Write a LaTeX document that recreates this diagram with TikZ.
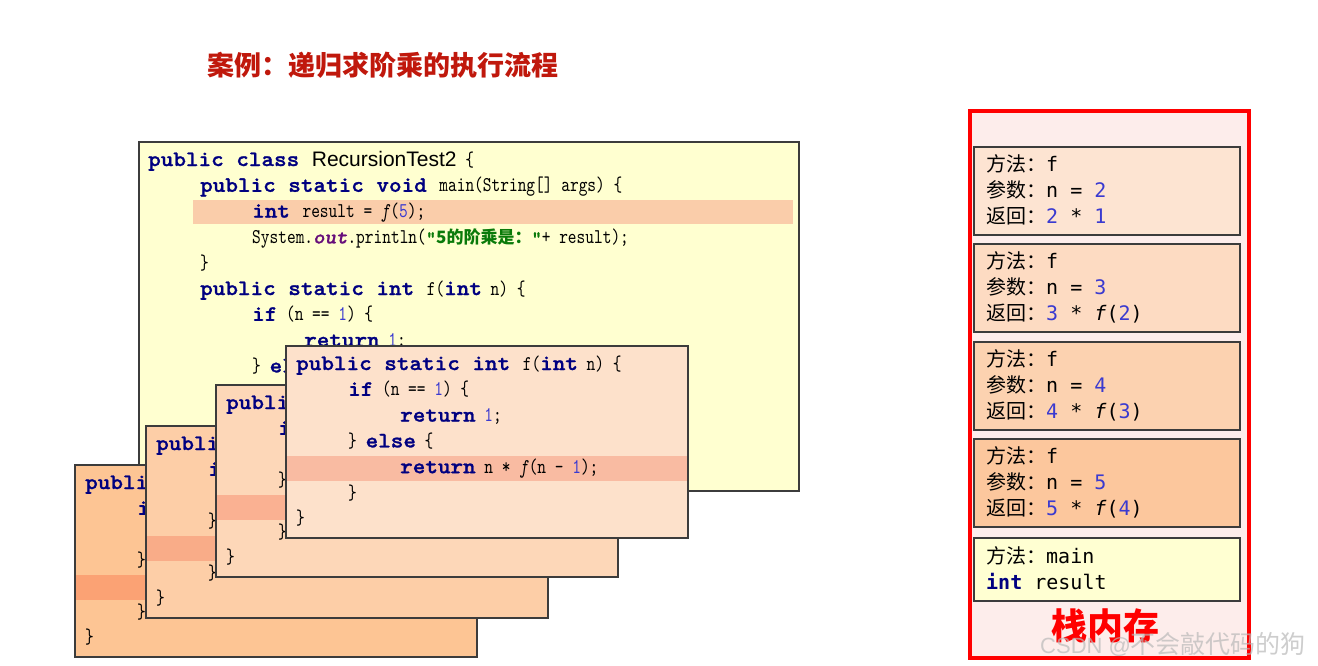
\documentclass[tikz,border=0pt]{standalone}
\usepackage{fontspec}
\usepackage{xcolor}
\newfontfamily\kwfont{lmmonolt10-bold.otf}[FakeStretch=1.09, FakeBold=1.2, BoldFont=lmmonolt10-bold.otf, ItalicFont=lmmonolt10-boldoblique.otf, BoldItalicFont=lmmonolt10-boldoblique.otf]
\newfontfamily\codefont{lmmono10-regular.otf}[FakeStretch=0.79, ItalicFont=lmmono10-italic.otf]
\newfontfamily\cjk{Noto Sans CJK SC}
\newfontfamily\dvm{DejaVu Sans Mono}
\newfontfamily\arialf{Liberation Sans}
\definecolor{kwc}{HTML}{000080}
\definecolor{numc}{HTML}{3A3AD0}
\definecolor{strc}{HTML}{0A7A0A}
\definecolor{purp}{HTML}{660E7A}
\definecolor{mainfill}{HTML}{FFFFD0}
\definecolor{mainhl}{HTML}{FACDAA}
\definecolor{fa}{HTML}{FDC594}\definecolor{fahl}{HTML}{FBA274}
\definecolor{fb}{HTML}{FDCEA7}\definecolor{fbhl}{HTML}{F9AC88}
\definecolor{fc}{HTML}{FDD7B8}\definecolor{fchl}{HTML}{FAB192}
\definecolor{fd}{HTML}{FDE1CB}\definecolor{fdhl}{HTML}{F9BBA2}
\definecolor{bordc}{HTML}{3C3C3C}
\definecolor{stkbg}{HTML}{FDEDEB}
\definecolor{sa}{HTML}{FDE4D2}
\definecolor{sb}{HTML}{FDDBC2}
\definecolor{sc}{HTML}{FCD2B0}
\definecolor{sd}{HTML}{FCC79D}
\definecolor{se}{HTML}{FFFFD2}
\definecolor{titlec}{HTML}{C0180C}
\newcommand\cf{\codefont\fontsize{21}{24}\selectfont}
\newcommand\kw[1]{{\kwfont\fontsize{22}{26}\selectfont\color{kwc}#1}}
\newcommand\nm[1]{{\color{numc}#1}}
\newcommand\stf{\dvm\fontsize{20}{24}\selectfont}
\newcommand\skw[1]{{\bfseries\color{kwc}#1}}
\newcommand\codeframe[5]{%
\begin{scope}[shift={(#2,#3)}]
 \node[framebox, fill=#4] (#1) at (0,0) {};
 \fill[#5] (0.75,110) rectangle (401.25,135);
 \node[code] (#1a) at (10,24) {\kw{public static int }f(\kw{int} n) \{};
 \node[code] (#1b) at (62,49.8) {\kw{if} (n == \nm{1}) \{};
 \node[code] (#1c) at (114,75.6) {\kw{return} \nm{1};};
 \node[code] (#1d) at (62,101.4) {\} \kw{else} \{};
 \node[code] (#1e) at (114,127.2) {\kw{return} n * \textit{f}(n - \nm{1});};
 \node[code] (#1f) at (62,153) {\}};
 \node[code] (#1g) at (10,178.8) {\}};
\end{scope}}
\tikzset{
 framebox/.style={draw=bordc, line width=1.5pt, anchor=north west, inner sep=0pt, outer sep=0pt, minimum width=402pt, minimum height=192pt},
 code/.style={anchor=base west, inner sep=0pt, font=\cf},
 stk/.style={anchor=base west, inner sep=0pt, font=\stf},
 stkbox/.style={draw=bordc, line width=1.5pt, anchor=north west, inner sep=0pt, outer sep=0pt, minimum width=266pt},
}
\begin{document}
\begin{tikzpicture}[x=1pt,y=-1pt]
\useasboundingbox (0,0) rectangle (1318,665);
\fill[white] (0,0) rectangle (1318,665);
% title
\node[inner sep=0pt, text=titlec, font=\cjk\bfseries\fontsize{27}{30}\selectfont] (title) at (383,65) {案例：递归求阶乘的执行流程};
% main class box
\node[draw=bordc, line width=1.5pt, fill=mainfill, anchor=north west, inner sep=0pt, minimum width=660pt, minimum height=349pt] (mainbox) at (138,141) {};
\fill[mainhl] (193,200) rectangle (793,224);
\node[code] (m1) at (148,166) {\kw{public class }{\arialf\fontsize{21}{24}\selectfont RecursionTest2} \{};
\node[code] (m2) at (200,191.8) {\kw{public static void }main(String[] args) \{};
\node[code] (m3) at (252,217.6) {\kw{int }result = \textit{f}(\nm{5});};
\node[code] (m4) at (252,243.4) {System.{\kwfont\itshape\fontsize{20}{22}\selectfont\color{purp}out}.println({\color{strc}{\kwfont\fontsize{18}{20}\selectfont"}{\cjk\bfseries\fontsize{17}{20}\selectfont 5的阶乘是：}{\kwfont\fontsize{18}{20}\selectfont"}}+ result);};
\node[code] (m5) at (200,269.2) {\}};
\node[code] (m6) at (200,295) {\kw{public static int }f(\kw{int} n) \{};
\node[code] (m7) at (252,320.8) {\kw{if} (n == \nm{1}) \{};
\node[code] (m8) at (304,346.6) {\kw{return} \nm{1};};
\node[code] (m9) at (252,372.4) {\} \kw{else} \{};
\node[code] (m10) at (304,398.2) {\kw{return} n * \textit{f}(n - \nm{1});};
\node[code] (m11) at (252,424) {\}};
\node[code] (m12) at (200,449.8) {\}};
\node[code] (m13) at (148,475.6) {\}};
% recursion frames, back to front
\codeframe{fra}{75}{465}{fa}{fahl}
\codeframe{frb}{146}{426}{fb}{fbhl}
\codeframe{frc}{216}{385}{fc}{fchl}
\codeframe{frd}{286}{346}{fd}{fdhl}
% stack memory
\node[draw=red, line width=3.5pt, fill=stkbg, anchor=north west, inner sep=0pt, minimum width=279pt, minimum height=547pt] (stack) at (968,109) {};
\node[stkbox, fill=sa, minimum height=88pt] (s1) at (974,147) {};
\node[stk] (s1a) at (986,171) {{\cjk 方法：}f};
\node[stk] (s1b) at (986,197) {{\cjk 参数：}n = \nm{2}};
\node[stk] (s1c) at (986,223) {{\cjk 返回：}\nm{2} * \nm{1}};
\node[stkbox, fill=sb, minimum height=88pt] (s2) at (974,244) {};
\node[stk] (s2a) at (986,268) {{\cjk 方法：}f};
\node[stk] (s2b) at (986,294) {{\cjk 参数：}n = \nm{3}};
\node[stk] (s2c) at (986,320) {{\cjk 返回：}\nm{3} * \textit{f}(\nm{2})};
\node[stkbox, fill=sc, minimum height=88pt] (s3) at (974,342) {};
\node[stk] (s3a) at (986,366) {{\cjk 方法：}f};
\node[stk] (s3b) at (986,392) {{\cjk 参数：}n = \nm{4}};
\node[stk] (s3c) at (986,418) {{\cjk 返回：}\nm{4} * \textit{f}(\nm{3})};
\node[stkbox, fill=sd, minimum height=88pt] (s4) at (974,439) {};
\node[stk] (s4a) at (986,463) {{\cjk 方法：}f};
\node[stk] (s4b) at (986,489) {{\cjk 参数：}n = \nm{5}};
\node[stk] (s4c) at (986,515) {{\cjk 返回：}\nm{5} * \textit{f}(\nm{4})};
\node[stkbox, fill=se, minimum height=63pt] (s5) at (974,538) {};
\node[stk] (s5a) at (986,563) {{\cjk 方法：}main};
\node[stk] (s5b) at (986,589) {\skw{int} result};
\node[inner sep=0pt, text=red, font=\cjk\bfseries\fontsize{36}{40}\selectfont] (stacklabel) at (1105,626) {栈内存};
% watermark
\node[anchor=base west, inner sep=0pt, text=gray!55, opacity=0.7] (wm) at (1040,653) {{\arialf\fontsize{22}{24}\selectfont CSDN @}{\cjk\fontsize{25}{28}\selectfont 不会敲代码的狗}};
\end{tikzpicture}
\end{document}
